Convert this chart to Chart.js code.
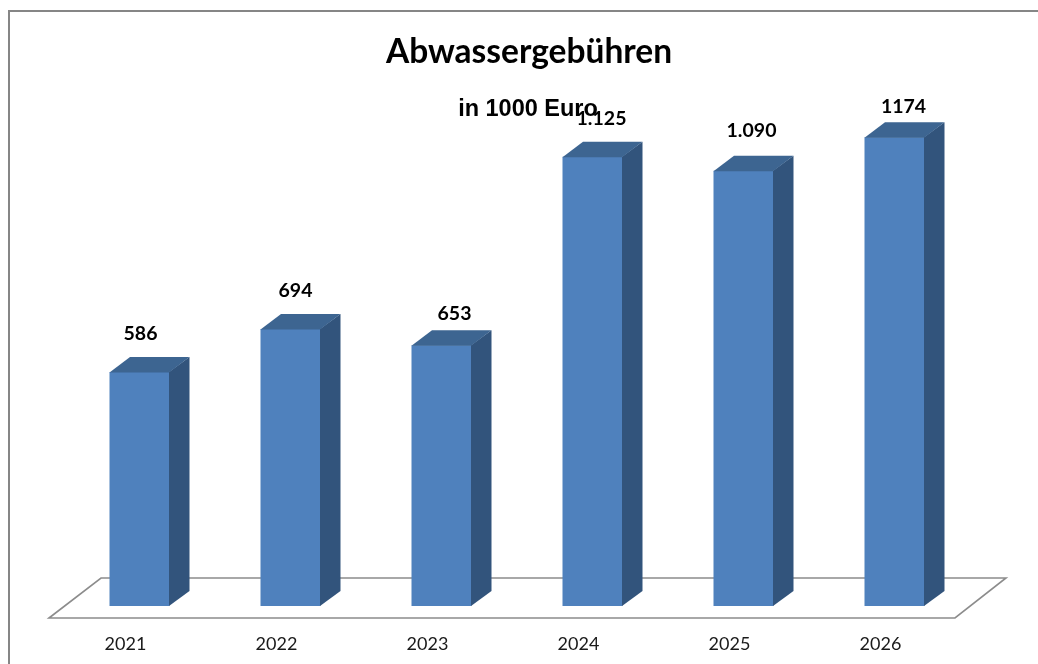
<!DOCTYPE html>
<html><head><meta charset="utf-8">
<style>html,body{margin:0;padding:0;background:#fff}canvas{display:block}</style>
<script src="https://cdn.jsdelivr.net/npm/chart.js@4"></script>
</head><body>
<div style="width:1038px;height:664px"><canvas id="c" width="1038" height="664"></canvas></div>
<script>
const categories = ['2021','2022','2023','2024','2025','2026'];
const values = [586,694,653,1125,1090,1174];
const valueLabels = ['586','694','653','1.125','1.090','1174'];
const labelShiftX = [1,5,13,9,8,9];
const labelRiseY = [38,38,32,38,40,31];
const titleText = 'Abwassergebühren';
const subtitleText = 'in 1000 Euro';

const DEPTH_X = 20.5, DEPTH_Y = 15;
const plugin = {
  id:'fake3d',
  beforeDraw(ch){
    const c=ch.ctx;
    c.save();
    c.strokeStyle='#868686';c.lineWidth=2;
    c.beginPath();c.moveTo(9,664);c.lineTo(9,11);c.lineTo(1038,11);c.stroke();
    c.restore();
  },
  beforeDatasetsDraw(ch){
    const c=ch.ctx,a=ch.chartArea,b=ch.scales.y.getPixelForValue(0);
    c.save();
    c.strokeStyle='#8c8c8c';c.lineWidth=1.6;c.fillStyle='#fff';
    c.beginPath();
    c.moveTo(a.left-15,b+12);c.lineTo(a.left+37,b-28);
    c.lineTo(a.right+36,b-28);c.lineTo(a.right-15,b+12);c.closePath();
    c.fill();c.stroke();
    c.restore();
  },
  afterDatasetsDraw(ch){
    const c=ch.ctx,meta=ch.getDatasetMeta(0);
    c.save();
    meta.data.forEach((el,i)=>{
      const p=el.getProps(['x','y','base','width'],true);
      const l=p.x-p.width/2,r=p.x+p.width/2,t=p.y,b=p.base;
      c.fillStyle='#32547c';
      c.beginPath();c.moveTo(r-0.5,t);c.lineTo(r+DEPTH_X-0.5,t-DEPTH_Y);c.lineTo(r+DEPTH_X-0.5,b-DEPTH_Y);c.lineTo(r-0.5,b);c.closePath();c.fill();
      c.fillStyle='#3d6591';
      c.beginPath();c.moveTo(l,t+0.5);c.lineTo(l+DEPTH_X,t-DEPTH_Y);c.lineTo(r+DEPTH_X-0.5,t-DEPTH_Y);c.lineTo(r-0.5,t+0.5);c.closePath();c.fill();
    });
    c.textAlign='center';c.textBaseline='middle';c.fillStyle='#000';
    c.font='bold 33.5px Lato';
    c.fillText(titleText,529,52);
    c.font='bold 23.5px "Liberation Sans"';
    c.fillText(subtitleText,528,110);
    c.font='bold 19.5px Lato';
    meta.data.forEach((el,i)=>{
      const p=el.getProps(['x','y'],true);
      c.fillText(valueLabels[i],p.x+labelShiftX[i],p.y-labelRiseY[i]);
    });
    c.restore();
  }
};
new Chart(document.getElementById('c'),{
  type:'bar',
  data:{labels:categories,datasets:[{data:values,backgroundColor:'#4f81bd',borderWidth:0,barPercentage:60/151,categoryPercentage:1}]},
  options:{
    responsive:false,animation:false,
    layout:{padding:{left:64,right:68,top:47,bottom:0}},
    plugins:{legend:{display:false},tooltip:{enabled:false},title:{display:false}},
    scales:{
      x:{grid:{display:false},border:{display:false},
         afterFit(s){s.height=58;},
         ticks:{autoSkip:false,maxRotation:0,minRotation:0,labelOffset:-14,padding:19,color:'#1a1a1a',font:{family:'Lato',size:18}}},
      y:{display:false,min:0,max:1400}
    }
  },
  plugins:[plugin]
});
</script>
</body></html>
